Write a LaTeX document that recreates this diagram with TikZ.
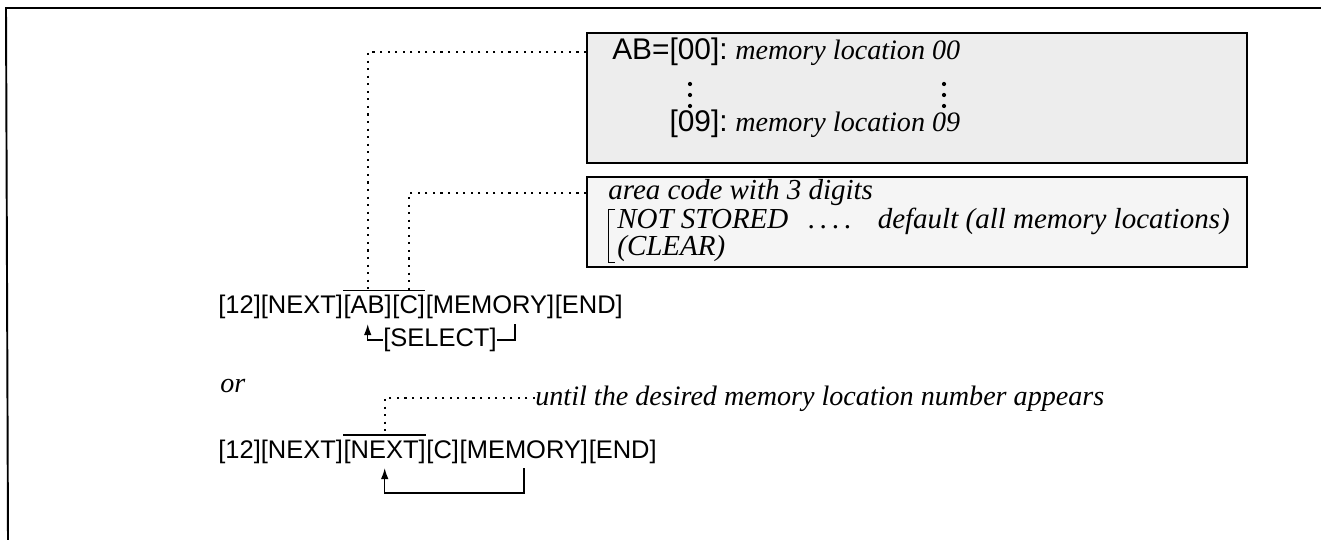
\documentclass[tikz,border=0pt]{standalone}
\usepackage{fontspec}
\setmainfont{Liberation Serif}
\newfontfamily\keyfam{Liberation Sans}
\usetikzlibrary{arrows.meta,positioning}
\tikzset{
  key/.style={inner xsep=0pt,inner ysep=2.5pt,font=\keyfam\fontsize{14.5}{17}\selectfont},
  boxkey/.style={inner sep=0pt,font=\keyfam\fontsize{17}{20}\selectfont},
  note/.style={inner sep=0pt,font=\fontsize{16}{19}\selectfont\itshape},
  bignote/.style={note,font=\fontsize{16.5}{19}\selectfont\itshape},
  panel/.style={draw,line width=1.1pt,minimum width=13.2cm},
  leader/.style={line width=1.3pt,dash pattern=on 1.2pt off 3.1pt},
  bar/.style={line width=0.8pt},
  back/.style={-{Latex[length=2.2mm,width=1.5mm]},line width=0.8pt}
}

\begin{document}
\begin{tikzpicture}[x=0.02cm,y=-0.02cm]
  \useasboundingbox (0,0) rectangle (1321,540);
  \draw[line width=1.1pt] (1321,8) -- (6,8) -- (8,540);

  \node[panel,fill=black!7,minimum height=2.6cm] (locbox) at (917,98) {};
  \node[panel,fill=black!4,minimum height=1.8cm] (areabox) at (917,222) {};

  \node[boxkey,anchor=base east] (row00) at (728,60) {AB=[00]:};
  \node[note,anchor=base west] (loc00) at (735,60) {memory location 00};
  \node[boxkey,anchor=base east] (row09) at (728,132) {[09]:};
  \node[note,anchor=base west] (loc09) at (735,132) {memory location 09};
  \foreach \x in {690,944}
    \foreach \y in {84,95,106}
      \fill (\x,\y) circle (1.2pt);

  \node[bignote,anchor=base west] (area) at (608,200) {area code with 3 digits};
  \node[bignote,anchor=base west] (nst) at (617,229) {NOT STORED};
  \node[bignote,anchor=base west] (clr) at (617,256) {(CLEAR)};
  \node[bignote,anchor=base west] (dd) at (808,229) {.\,.\,.\,.};
  \node[bignote,anchor=base east] (dflt) at (1230,229) {default (all memory locations)};
  \draw[bar] ([xshift=-1pt]nst.north west) -- ([xshift=-5pt]nst.north west)
    -- ([xshift=-5pt]clr.south west) -- ([xshift=-1pt]clr.south west);

  \node[key,anchor=base west] (l1a) at (218,314) {[12][NEXT]};
  \node[key,base right=0pt of l1a] (ab) {[AB]};
  \node[key,base right=0pt of ab] (cc) {[C]};
  \node[key,base right=0pt of cc] (mem1) {[MEMORY]};
  \node[key,base right=0pt of mem1] (end1) {[END]};
  \node[key] (select) at (440,340) {[SELECT]};

  \node[note,anchor=base west] (or) at (220,392) {or};
  \node[note,anchor=base west] (until) at (535,405) {until the desired memory location number appears};

  \node[key,anchor=base west] (l2a) at (218,458) {[12][NEXT]};
  \node[key,base right=0pt of l2a] (nx) {[NEXT]};
  \node[key,base right=0pt of nx] (c2) {[C]};
  \node[key,base right=0pt of c2] (mem2) {[MEMORY]};
  \node[key,base right=0pt of mem2] (end2) {[END]};

  \draw[bar] (ab.north west) -- (ab.north east);
  \draw[bar] (cc.north west) -- (cc.north east);
  \draw[bar] (nx.north west) -- (nx.north east);

  \draw[leader] (locbox.west |- row00.center) -| (ab.north);
  \draw[leader] (areabox.west |- area.center) -| (cc.north);
  \draw[leader] (until.west) -| (nx.north);

  \draw[back] (select.west) -| (ab.south);
  \draw[bar] (select.east) -| ([xshift=0.5cm]mem1.south);
  \draw[back] (mem2.south) -- ++(0,25) -| (nx.south);
\end{tikzpicture}
\end{document}
